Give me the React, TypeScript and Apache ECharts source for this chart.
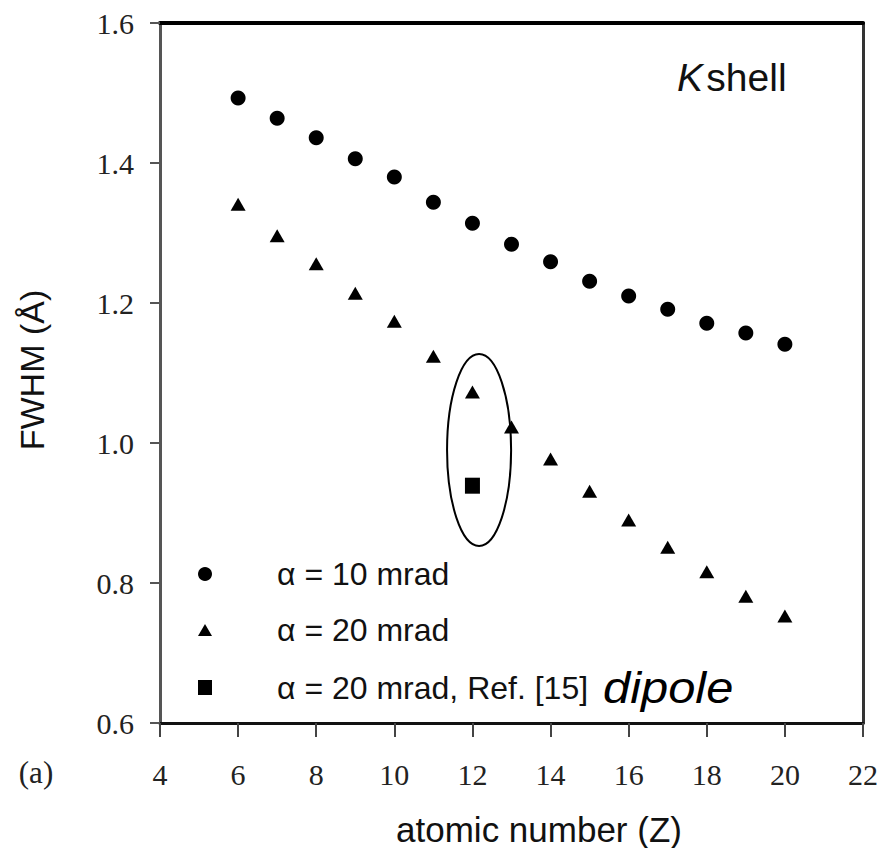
import React, { useEffect, useRef } from "react";
import * as echarts from "echarts";

const atomicNumbers = [6, 7, 8, 9, 10, 11, 12, 13, 14, 15, 16, 17, 18, 19, 20];
const fwhm10mrad = [1.493, 1.464, 1.436, 1.406, 1.38, 1.344, 1.314, 1.284, 1.259, 1.231, 1.21, 1.191, 1.171, 1.157, 1.141];
const fwhm20mrad = [1.341, 1.296, 1.256, 1.214, 1.174, 1.124, 1.073, 1.023, 0.977, 0.931, 0.89, 0.851, 0.816, 0.781, 0.753];
const refAtomicNumbers = [12];
const fwhmRef15 = [0.939];
const ellipseCenter = [12.17, 0.99];
const ellipseRadius = [0.82, 0.137];

const SANS = "'Liberation Sans', Arial, sans-serif";
const SERIF = "'Liberation Serif', 'Times New Roman', serif";

export default function App() {
  const ref = useRef<HTMLDivElement>(null);
  useEffect(() => {
    if (!ref.current) return;
    const chart = echarts.init(ref.current, null, { renderer: "svg" });
    const tickLabel = { fontFamily: SERIF, fontSize: 30, color: "#222" };
    chart.setOption({
      animation: false,
      backgroundColor: "#fff",
      grid: { left: 160, right: 21, top: 23, bottom: 125, containLabel: false },
      xAxis: [
        {
          type: "value", min: 4, max: 22, interval: 2, position: "bottom",
          axisLine: { show: true, onZero: false, lineStyle: { color: "#111", width: 3 } },
          axisTick: { show: true, inside: false, length: 14, lineStyle: { color: "#444", width: 2 } },
          axisLabel: { ...tickLabel, margin: 36 },
          splitLine: { show: false },
        },
        {
          type: "value", min: 4, max: 22, interval: 2, position: "top",
          axisLine: { show: true, onZero: false, lineStyle: { color: "#000", width: 4 } },
          axisTick: { show: false }, axisLabel: { show: false }, splitLine: { show: false },
        },
      ],
      yAxis: [
        {
          type: "value", min: 0.6, max: 1.6, interval: 0.2, position: "left",
          axisLine: { show: true, onZero: false, lineStyle: { color: "#555", width: 3 } },
          axisTick: { show: true, inside: false, length: 10, lineStyle: { color: "#555", width: 2 } },
          axisLabel: { ...tickLabel, margin: 26, formatter: (v: number) => v.toFixed(1) },
          splitLine: { show: false },
        },
        {
          type: "value", min: 0.6, max: 1.6, interval: 0.2, position: "right",
          axisLine: { show: true, onZero: false, lineStyle: { color: "#333", width: 3 } },
          axisTick: { show: false }, axisLabel: { show: false }, splitLine: { show: false },
        },
      ],
      series: [
        {
          name: "α = 10 mrad", type: "scatter", symbol: "circle", symbolSize: 15,
          itemStyle: { color: "#000", opacity: 1 },
          data: atomicNumbers.map((z, i) => [z, fwhm10mrad[i]]),
        },
        {
          name: "α = 20 mrad", type: "scatter", symbol: "triangle", symbolSize: [15, 13],
          itemStyle: { color: "#000", opacity: 1 },
          data: atomicNumbers.map((z, i) => [z, fwhm20mrad[i]]),
        },
        {
          name: "α = 20 mrad, Ref. [15]", type: "scatter", symbol: "rect", symbolSize: [15, 16],
          itemStyle: { color: "#000", opacity: 1 },
          data: refAtomicNumbers.map((z, i) => [z, fwhmRef15[i]]),
        },
        {
          type: "custom", silent: true,
          data: [[ellipseCenter[0], ellipseCenter[1], ellipseRadius[0], ellipseRadius[1]]],
          renderItem: (params: any, api: any) => {
            const cx = api.value(0), cy = api.value(1), rx = api.value(2), ry = api.value(3);
            const c = api.coord([cx, cy]);
            const px = api.coord([cx + rx, cy]);
            const py = api.coord([cx, cy + ry]);
            return {
              type: "ellipse",
              shape: { cx: c[0], cy: c[1], rx: Math.abs(px[0] - c[0]), ry: Math.abs(c[1] - py[1]) },
              style: { fill: "none", stroke: "#000", lineWidth: 2 },
            };
          },
        },
      ],
      graphic: [
        {
          type: "text", x: 32, y: 370, rotation: Math.PI / 2,
          style: { text: "FWHM (Å)", font: `34px ${SANS}`, fill: "#111", align: "center", verticalAlign: "middle" },
        },
        {
          type: "text", x: 539, y: 829,
          style: { text: "atomic number (Z)", font: `35px ${SANS}`, fill: "#111", align: "center", verticalAlign: "middle" },
        },
        {
          type: "text", x: 36, y: 772,
          style: { text: "(a)", font: `31px ${SERIF}`, fill: "#222", align: "center", verticalAlign: "middle" },
        },
        {
          type: "text", x: 677, y: 77,
          style: {
            text: "{k|K} {s|shell}",
            rich: {
              k: { font: `italic 39px ${SANS}`, fill: "#111" },
              s: { font: `39px ${SANS}`, fill: "#111" },
            },
            align: "left", verticalAlign: "middle",
          },
        },
        { type: "circle", shape: { cx: 205, cy: 574, r: 7 }, style: { fill: "#000" } },
        { type: "polygon", shape: { points: [[205, 624], [212, 636], [198, 636]] }, style: { fill: "#000" } },
        { type: "rect", shape: { x: 198, y: 680, width: 14, height: 15 }, style: { fill: "#000" } },
        {
          type: "text", x: 277, y: 574,
          style: { text: "α = 10 mrad", font: `32px ${SANS}`, fill: "#111", align: "left", verticalAlign: "middle" },
        },
        {
          type: "text", x: 277, y: 630,
          style: { text: "α = 20 mrad", font: `32px ${SANS}`, fill: "#111", align: "left", verticalAlign: "middle" },
        },
        {
          type: "text", x: 277, y: 688,
          style: { text: "α = 20 mrad, Ref. [15]", font: `32px ${SANS}`, fill: "#111", align: "left", verticalAlign: "middle" },
        },
        {
          type: "text", x: 603, y: 688, scaleX: 1.11,
          style: { text: "dipole", font: `italic 44px ${SANS}`, fill: "#000", align: "left", verticalAlign: "middle" },
        },
      ],
    });
    return () => chart.dispose();
  }, []);
  return (
    <div
      ref={ref}
      style={{ position: "absolute", left: 0, top: 0, width: 884, height: 848, background: "#fff" }}
    />
  );
}
